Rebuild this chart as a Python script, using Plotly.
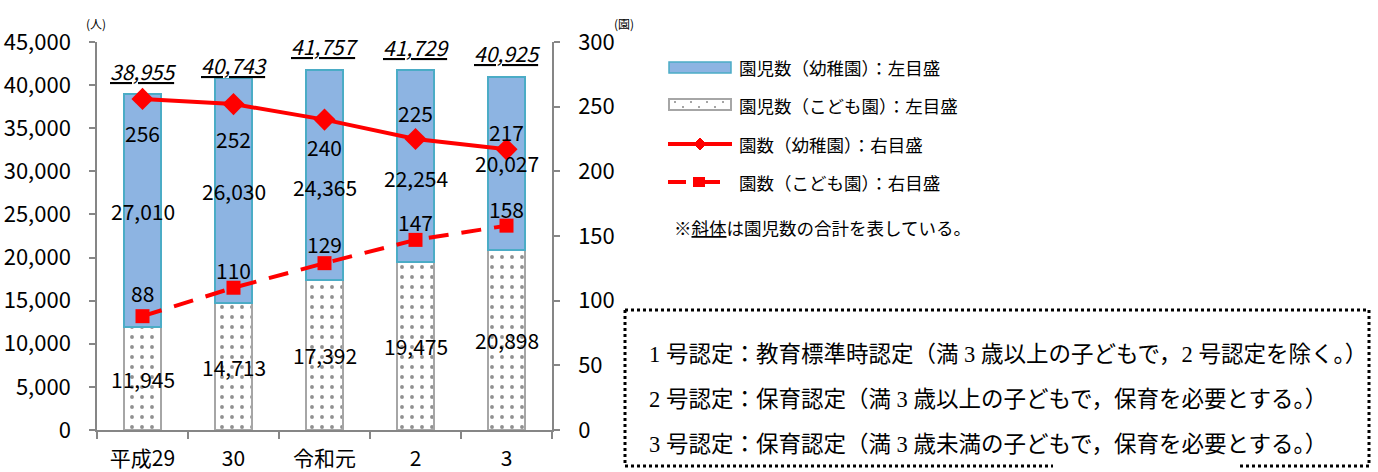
import plotly.graph_objects as go

# ---- data ----
categories = ["平成29", "30", "令和元", "2", "3"]
children_kodomo = [11945, 14713, 17392, 19475, 20898]      # 園児数（こども園）
children_youchien = [27010, 26030, 24365, 22254, 20027]    # 園児数（幼稚園）
schools_youchien = [256, 252, 240, 225, 217]               # 園数（幼稚園）
schools_kodomo = [88, 110, 129, 147, 158]                  # 園数（こども園）
totals = [a + b for a, b in zip(children_kodomo, children_youchien)]

left_ticks = list(range(0, 45001, 5000))
right_ticks = list(range(0, 301, 50))

# ---- style offsets (px) ----
total_shift = [23, 14, 24, 23, 24]
youchien_lbl_shift = [0, 0, -12, -12, 0]
school_y_shift = [-34, -35, -27, 26, 17]
school_k_shift = [23, 18, 19, 18, 17]

FONT = "Noto Sans CJK JP"
L, R, T, B = 97, 552, 42, 430
W, H = 1378, 472


def px(x):
    return (x - L) / (R - L)


def py(y):
    return (B - y) / (B - T)


fig = go.Figure()

fig.add_trace(go.Bar(
    x=categories, y=children_kodomo, name="園児数（こども園）：左目盛",
    marker=dict(color="white", line=dict(color="#A6A6A6", width=1.5),
                pattern=dict(shape=".", fgcolor="#222222", bgcolor="white", size=10, solidity=0.12)),
    showlegend=False, hoverinfo="skip"))
fig.add_trace(go.Bar(
    x=categories, y=children_youchien, name="園児数（幼稚園）：左目盛",
    marker=dict(color="#8DB4E2", line=dict(color="#4BACC6", width=1.5)),
    showlegend=False, hoverinfo="skip"))
fig.add_trace(go.Scatter(
    x=categories, y=schools_youchien, yaxis="y2", mode="lines+markers",
    line=dict(color="#FF0000", width=4),
    marker=dict(symbol="diamond", size=17, color="#FF0000"),
    showlegend=False, hoverinfo="skip"))
fig.add_trace(go.Scatter(
    x=categories, y=schools_kodomo, yaxis="y2", mode="lines+markers",
    line=dict(color="#FF0000", width=4, dash="20px,13px"),
    marker=dict(symbol="square", size=14, color="#FF0000"),
    showlegend=False, hoverinfo="skip"))

ann = []
lblfont = dict(family=FONT, size=21, color="black")
for i, c in enumerate(categories):
    ann.append(dict(x=i, y=children_kodomo[i] / 2, xref="x", yref="y", text=f"{children_kodomo[i]:,}",
                    showarrow=False, font=lblfont))
    ann.append(dict(x=i, y=children_kodomo[i] + children_youchien[i] / 2, xref="x", yref="y",
                    text=f"{children_youchien[i]:,}", yshift=youchien_lbl_shift[i],
                    showarrow=False, font=lblfont))
    ann.append(dict(x=i, y=totals[i], xref="x", yref="y", text=f"<i><u>{totals[i]:,}</u></i>",
                    yshift=total_shift[i], showarrow=False, font=lblfont))
    ann.append(dict(x=i, y=schools_youchien[i], xref="x", yref="y2", text=str(schools_youchien[i]),
                    yshift=school_y_shift[i], showarrow=False, font=lblfont))
    ann.append(dict(x=i, y=schools_kodomo[i], xref="x", yref="y2", text=str(schools_kodomo[i]),
                    yshift=school_k_shift[i], showarrow=False, font=lblfont))

# unit labels
ann.append(dict(x=px(84), y=py(13), xref="paper", yref="paper", text="(人)", showarrow=False,
                font=dict(family=FONT, size=12, color="black")))
ann.append(dict(x=px(636), y=py(13), xref="paper", yref="paper", text="(園)", showarrow=False,
                font=dict(family=FONT, size=12, color="black")))

# manual legend
legend_labels = ["園児数（幼稚園）：左目盛", "園児数（こども園）：左目盛",
                 "園数（幼稚園）：右目盛", "園数（こども園）：右目盛"]
legend_y = [67, 105, 144, 182]
legfont = dict(family=FONT, size=17.5, color="black")
for lab, ly in zip(legend_labels, legend_y):
    ann.append(dict(x=px(737), y=py(ly), xref="paper", yref="paper", text=lab, showarrow=False,
                    xanchor="left", yanchor="middle", font=legfont))
ann.append(dict(x=px(672), y=py(227), xref="paper", yref="paper",
                text="※<u>斜体</u>は園児数の合計を表している。", showarrow=False,
                xanchor="left", yanchor="middle", font=legfont))

# note box text
notes = ["1 号認定：教育標準時認定（満 3 歳以上の子どもで，2 号認定を除く。）",
         "2 号認定：保育認定（満 3 歳以上の子どもで，保育を必要とする。）",
         "3 号認定：保育認定（満 3 歳未満の子どもで，保育を必要とする。）"]
note_y = [354, 399, 444]
for t, ny in zip(notes, note_y):
    ann.append(dict(x=px(647), y=py(ny), xref="paper", yref="paper", text=t, showarrow=False,
                    xanchor="left", yanchor="middle",
                    font=dict(family="Liberation Serif, Noto Sans CJK JP", size=22.5, color="black")))

shapes = []
# legend swatches
shapes.append(dict(type="rect", xref="paper", yref="paper", x0=px(669), x1=px(731), y0=py(73), y1=py(62),
                   fillcolor="#8DB4E2", line=dict(color="#4BACC6", width=1.5)))
shapes.append(dict(type="rect", xref="paper", yref="paper", x0=px(669), x1=px(731), y0=py(110), y1=py(99),
                   fillcolor="white", line=dict(color="#A6A6A6", width=2)))
for k, dx in enumerate(range(675, 728, 8)):
    dy = 102 if k % 2 == 0 else 107
    shapes.append(dict(type="circle", xref="paper", yref="paper", x0=px(dx - 0.8), x1=px(dx + 0.8),
                       y0=py(dy + 0.8), y1=py(dy - 0.8), fillcolor="#333333", line=dict(width=0)))
shapes.append(dict(type="line", xref="paper", yref="paper", x0=px(668), x1=px(732), y0=py(144), y1=py(144),
                   line=dict(color="#FF0000", width=4)))
shapes.append(dict(type="path", xref="paper", yref="paper",
                   path=f"M {px(694)},{py(144)} L {px(700)},{py(138)} L {px(706)},{py(144)} L {px(700)},{py(150)} Z",
                   fillcolor="#FF0000", line=dict(color="#FF0000", width=1)))
shapes.append(dict(type="line", xref="paper", yref="paper", x0=px(668), x1=px(686), y0=py(182), y1=py(182),
                   line=dict(color="#FF0000", width=4)))
shapes.append(dict(type="line", xref="paper", yref="paper", x0=px(700), x1=px(720), y0=py(182), y1=py(182),
                   line=dict(color="#FF0000", width=4)))
shapes.append(dict(type="rect", xref="paper", yref="paper", x0=px(693), x1=px(705), y0=py(187), y1=py(177),
                   fillcolor="#FF0000", line=dict(color="#FF0000", width=0)))

# note box dotted border (bottom edge has a gap)
bx0, bx1, by0, by1 = 625, 1369, 310, 466
dotted = dict(color="black", width=3, dash="dot")
for seg in [((bx0, by0), (bx1, by0)), ((bx0, by0), (bx0, by1)), ((bx1, by0), (bx1, by1)),
            ((bx0, by1), (1053, by1)), ((1240, by1), (bx1, by1))]:
    (xa, ya), (xb, yb) = seg
    shapes.append(dict(type="line", xref="paper", yref="paper", x0=px(xa), x1=px(xb), y0=py(ya), y1=py(yb),
                       line=dotted))

axis_color = "#868686"
fig.update_layout(
    width=W, height=H,
    margin=dict(l=L, r=W - R, t=T, b=H - B, pad=0, autoexpand=False),
    paper_bgcolor="white", plot_bgcolor="white",
    barmode="stack", bargap=0.595,
    showlegend=False,
    font=dict(family=FONT, color="black"),
    xaxis=dict(type="category", range=[-0.5, 4.5], showline=True, linecolor=axis_color, linewidth=1.5,
               ticks="outside", tickson="boundaries", ticklen=7, tickcolor=axis_color, tickwidth=1.5,
               tickfont=dict(family=FONT, size=21, color="black"), showgrid=False, tickangle=0,
               automargin=False, ticklabelstandoff=9),
    yaxis=dict(range=[0, 45000], tickvals=left_ticks, tickformat=",", showline=True, linecolor=axis_color,
               linewidth=1.5, ticks="outside", ticklen=6, tickcolor=axis_color, tickwidth=1.5,
               tickfont=dict(family=FONT, size=22, color="black"), showgrid=False, zeroline=False,
               automargin=False, ticklabelstandoff=14),
    yaxis2=dict(range=[0, 300], tickvals=right_ticks, overlaying="y", side="right", showline=True,
                linecolor=axis_color, linewidth=1.5, ticks="outside", ticklen=6, tickcolor=axis_color,
                tickwidth=1.5, tickfont=dict(family=FONT, size=22, color="black"), showgrid=False,
                zeroline=False, automargin=False, ticklabelstandoff=14),
    annotations=ann,
    shapes=shapes,
)

fig.write_html("out.html", config={"displayModeBar": False},
               post_script="document.body.style.margin='0px';document.body.style.overflow='hidden';")
